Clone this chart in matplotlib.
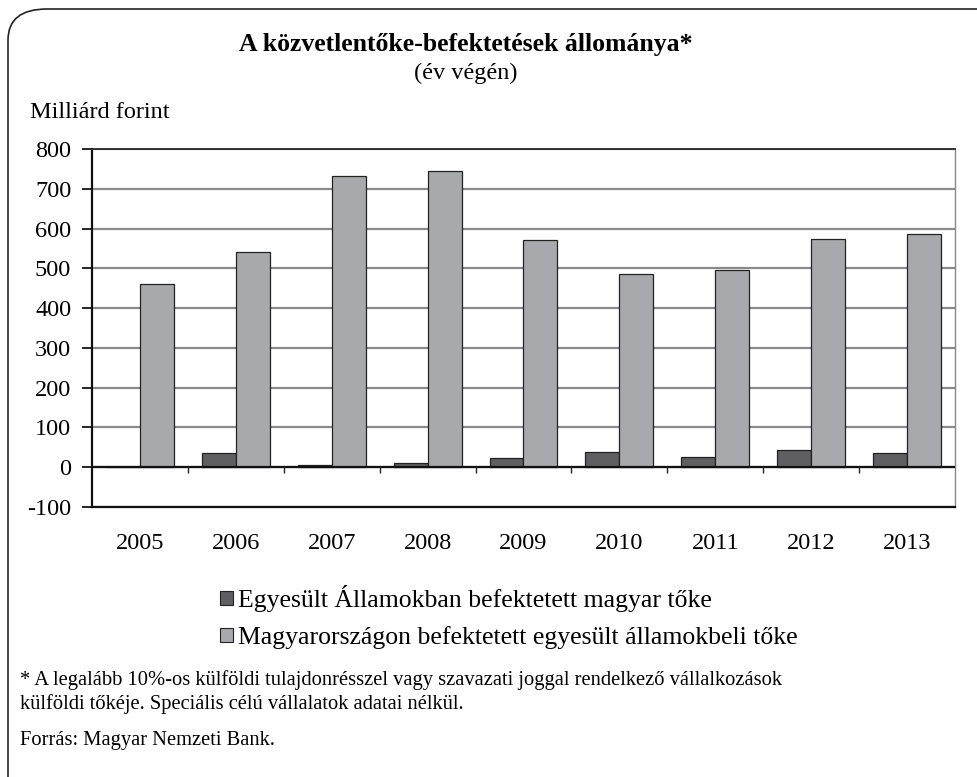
import matplotlib.pyplot as plt
from matplotlib.patches import FancyBboxPatch, Patch
from matplotlib.ticker import MultipleLocator
import numpy as np

plt.rcParams['font.family'] = ['Liberation Serif', 'DejaVu Serif']

# ------------- DATA -------------
years = ['2005', '2006', '2007', '2008', '2009', '2010', '2011', '2012', '2013']
hu_in_us = [0, 37, 5, 11, 23, 38, 25, 43, 36]
us_in_hu = [461, 540, 731, 745, 570, 487, 496, 573, 586]
names = ['Egyesült Államokban befektetett magyar tőke',
         'Magyarországon befektetett egyesült államokbeli tőke']
colors = ['#5f5f61', '#a8a9ac']

fig = plt.figure(figsize=(9.78, 7.77), dpi=100)

# ------------- KERET -------------
box = FancyBboxPatch((8 / 978, -0.05), 1.2, 1 - 9 / 777 + 0.05,
                     boxstyle="round,pad=0,rounding_size=0.04",
                     transform=fig.transFigure, fc='none', ec='#222222', lw=1.2)
fig.patches.append(box)

ax = fig.add_axes([92 / 978, 1 - 507 / 777, (955 - 92) / 978, (507 - 149) / 777])

x = np.arange(len(years))
w = 0.354
ax.bar(x - w / 2, hu_in_us, w, color=colors[0], edgecolor='#222222', linewidth=0.9, zorder=3)
ax.bar(x + w / 2, us_in_hu, w, color=colors[1], edgecolor='#222222', linewidth=0.9, zorder=3)

# ------------- EJES -------------
ax.set_xlim(-0.5, len(years) - 0.5)
ax.set_ylim(-100, 800)
ax.set_yticks(np.arange(-100, 801, 100))
ax.set_yticklabels([f'{v}' for v in np.arange(-100, 801, 100)])
ax.grid(axis='y', color='#8a8a8a', linewidth=1.6, zorder=1)
ax.axhline(0, color='#111111', linewidth=1.6, zorder=4)
# marcas entre categorias sobre la linea cero
ax.vlines(x[1:] - 0.5, -14, 0, color='#222222', linewidth=1, zorder=4)

ax.set_xticks(x)
ax.set_xticklabels(years)
ax.tick_params(axis='x', length=0, pad=18.5, labelsize=17.5)
ax.tick_params(axis='y', direction='out', length=7, width=1.2, pad=8, labelsize=17.5)

for s in ['left', 'bottom']:
    ax.spines[s].set_color('#111111')
    ax.spines[s].set_linewidth(1.6)
ax.spines['top'].set_color('#333333')
ax.spines['top'].set_linewidth(1.4)
ax.spines['right'].set_color('#888888')
ax.spines['right'].set_linewidth(1.0)

# ------------- TITULOS -------------
fig.text(466 / 978, 1 - 45 / 777, 'A közvetlentőke-befektetések állománya*',
         ha='center', va='center', fontsize=18.5, fontweight='bold')
fig.text(466 / 978, 1 - 73 / 777, '(év végén)', ha='center', va='center', fontsize=17.5)
fig.text(30 / 978, 1 - 113 / 777, 'Milliárd forint', ha='left', va='center', fontsize=17.5)

# ------------- LEYENDA -------------
handles = [Patch(facecolor=c, edgecolor='#222222', linewidth=0.8) for c in colors]
fig.legend(handles, names, loc='upper left', bbox_to_anchor=(220 / 978, 1 - 585 / 777),
           frameon=False, fontsize=18.5, handlelength=0.5, handleheight=0.5,
           handletextpad=0.2, labelspacing=0.55, borderpad=0, borderaxespad=0)

# ------------- NOTAS -------------
fig.text(20 / 978, 1 - 680 / 777,
         '* A legalább 10%-os külföldi tulajdonrésszel vagy szavazati joggal rendelkező vállalkozások',
         ha='left', va='center', fontsize=14.8)
fig.text(20 / 978, 1 - 704 / 777, 'külföldi tőkéje. Speciális célú vállalatok adatai nélkül.',
         ha='left', va='center', fontsize=14.8)
fig.text(20 / 978, 1 - 741 / 777, 'Forrás: Magyar Nemzeti Bank.',
         ha='left', va='center', fontsize=14.8)

fig.savefig('out.png', dpi=100)
